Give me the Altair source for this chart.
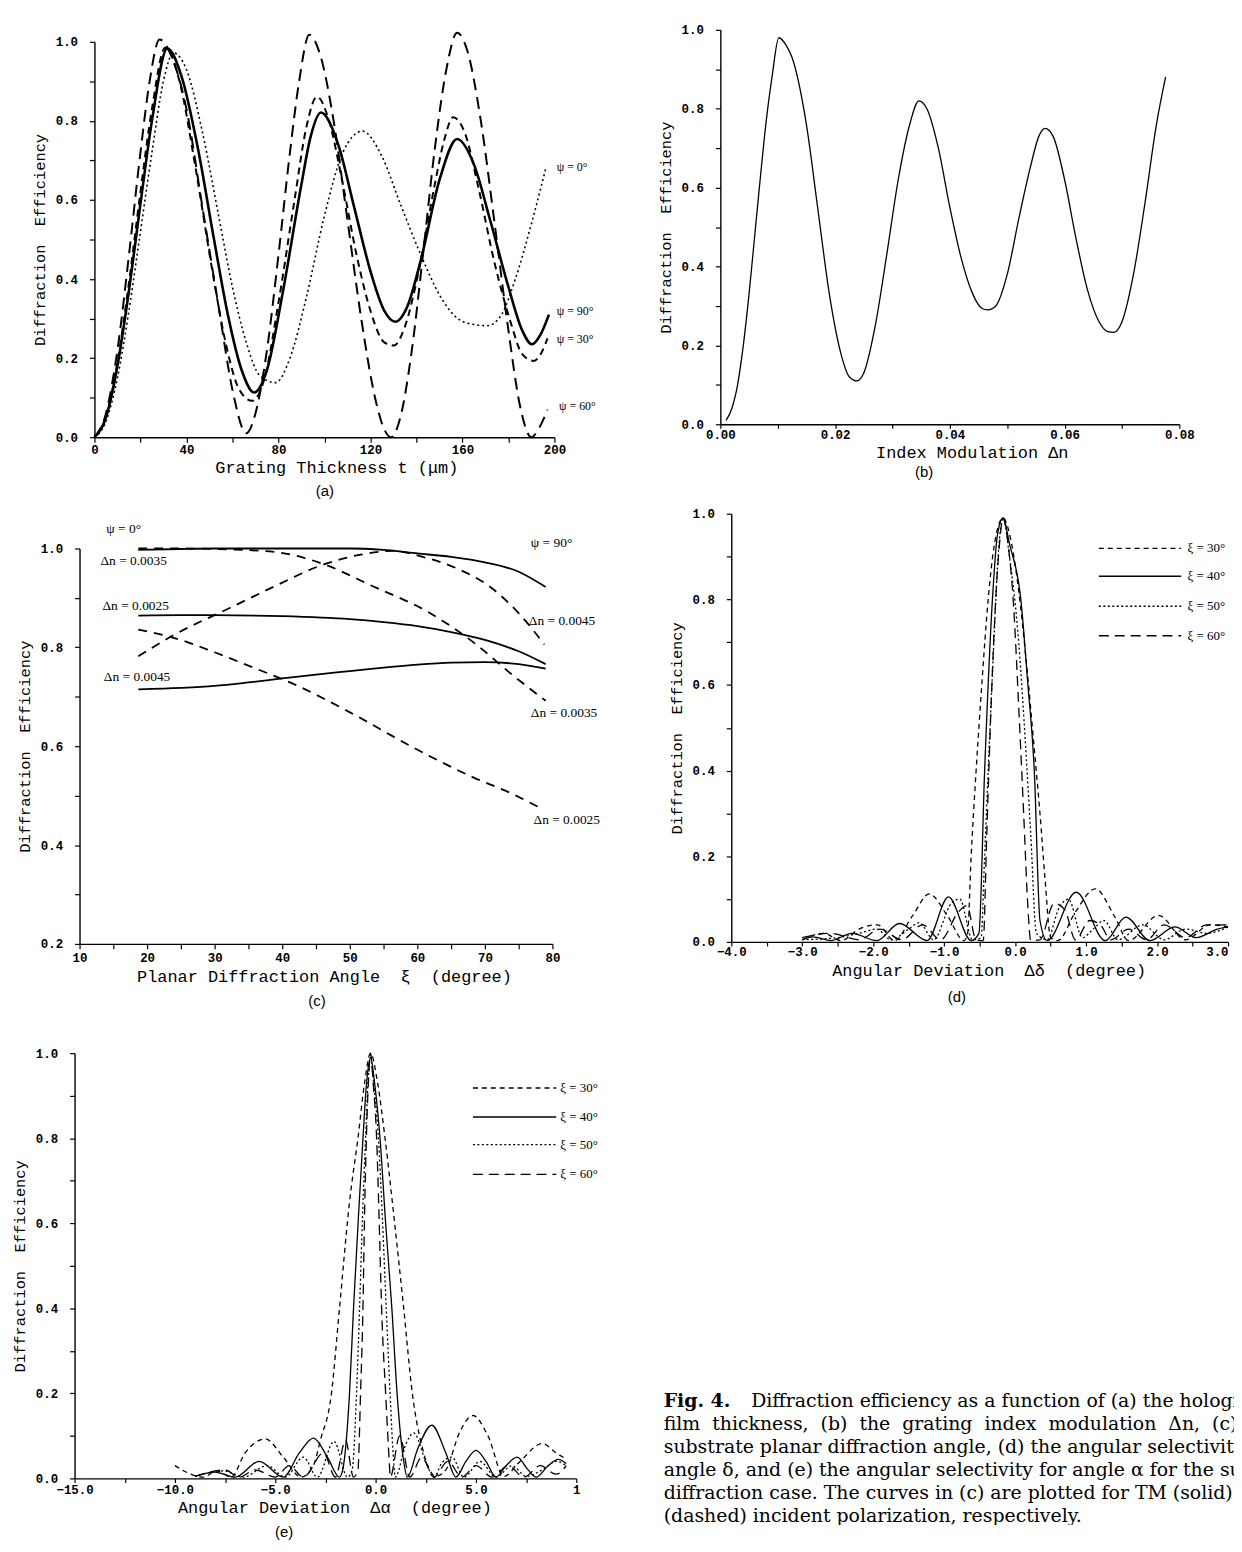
import altair as alt
import pandas as pd

MONO = "Liberation Mono"
SERIF = "Liberation Serif"
SANS = "Liberation Sans"
CAPFONT = "DejaVu Serif"
NB = "\u00a0"

# ---------------- (a) grating thickness ----------------
a_t_90 = [0, 5, 10, 15, 20, 25, 31.7, 38, 45, 52, 58, 64, 69.4, 75, 82, 90, 94, 98.5, 106, 113, 120, 126, 130.8,
          136, 142, 150, 157.7, 165, 172, 180, 186, 190.2, 194, 197.6]
a_v_90 = [0, 0.05, 0.18, 0.37, 0.59, 0.8, 0.983, 0.91, 0.73, 0.5, 0.31, 0.17, 0.113, 0.17, 0.37, 0.64, 0.76, 0.821,
          0.74, 0.58, 0.42, 0.32, 0.292, 0.33, 0.45, 0.65, 0.754, 0.69, 0.55, 0.38, 0.27, 0.235, 0.26, 0.31]
a_t_0 = [0, 5, 10, 15, 20, 25, 30, 34.3, 40, 47, 54, 60, 66, 72, 78.8, 85, 92, 100, 108, 116.5, 125, 133, 142, 150,
         158, 165, 170.9, 177, 183, 190, 196.2]
a_v_0 = [0, 0.04, 0.15, 0.32, 0.52, 0.72, 0.9, 0.972, 0.93, 0.77, 0.56, 0.38, 0.24, 0.155, 0.138, 0.2, 0.35, 0.56,
         0.72, 0.774, 0.71, 0.59, 0.46, 0.36, 0.3, 0.285, 0.282, 0.31, 0.4, 0.54, 0.679]
a_t_30 = [0, 5, 10, 15, 20, 25, 30.8, 37, 44, 51, 57, 63, 68.6, 74, 80, 87, 92, 96.8, 102, 108, 114, 120, 126, 130.2,
          135, 141, 148, 152, 156, 161, 167, 174, 181, 186, 191, 194, 197]
a_v_30 = [0, 0.05, 0.19, 0.39, 0.62, 0.83, 0.985, 0.9, 0.68, 0.43, 0.24, 0.12, 0.092, 0.15, 0.34, 0.6, 0.78, 0.861,
          0.8, 0.64, 0.46, 0.32, 0.24, 0.232, 0.28, 0.42, 0.64, 0.75, 0.809, 0.77, 0.63, 0.44, 0.29, 0.21, 0.193,
          0.21, 0.25]
a_t_60 = [0, 5, 10, 15, 20, 24, 28.3, 33, 40, 47, 54, 60, 66, 70, 75, 80, 85, 89, 93.4, 98, 104, 110, 116, 122, 126,
          129, 133, 138, 143, 148, 153, 157.7, 162, 168, 174, 180, 185, 190, 193, 197]
a_v_60 = [0, 0.06, 0.22, 0.46, 0.72, 0.9, 1.006, 0.97, 0.83, 0.58, 0.33, 0.12, 0.01, 0.06, 0.22, 0.46, 0.72, 0.9,
          1.018, 0.97, 0.8, 0.55, 0.3, 0.1, 0.02, 0.0, 0.05, 0.22, 0.47, 0.73, 0.93, 1.023, 0.98, 0.8, 0.54, 0.27,
          0.08, 0.0, 0.02, 0.07]
a_lab_x = [201, 201, 201, 202]
a_lab_y = [0.683, 0.319, 0.249, 0.08]
a_lab_t = ["ψ = 0°", "ψ = 90°", "ψ = 30°", "ψ = 60°"]

# ---------------- (b) index modulation ----------------
b_dn = [0.001, 0.002, 0.003, 0.004, 0.005, 0.006, 0.007, 0.008, 0.009, 0.0102, 0.0115, 0.0125, 0.015, 0.017, 0.019,
        0.021, 0.0225, 0.0238, 0.025, 0.027, 0.029, 0.031, 0.033, 0.0346, 0.036, 0.038, 0.040, 0.042, 0.044, 0.0455,
        0.0466, 0.048, 0.050, 0.052, 0.054, 0.0555, 0.0566, 0.058, 0.060, 0.062, 0.064, 0.066, 0.0675, 0.0686,
        0.070, 0.072, 0.074, 0.076, 0.0776]
b_eta = [0.01, 0.04, 0.1, 0.2, 0.33, 0.48, 0.63, 0.77, 0.88, 0.98, 0.96, 0.93, 0.76, 0.545, 0.33, 0.18, 0.12, 0.11,
         0.13, 0.25, 0.43, 0.62, 0.76, 0.82, 0.8, 0.7, 0.55, 0.42, 0.33, 0.295, 0.29, 0.3, 0.38, 0.52, 0.65, 0.73,
         0.75, 0.73, 0.62, 0.47, 0.34, 0.26, 0.235, 0.233, 0.26, 0.38, 0.56, 0.76, 0.88]

# ---------------- (c) planar diffraction angle ----------------
c_tm35_x = [18.7, 25, 30, 40, 50, 55, 60, 65, 70, 75, 79]
c_tm35_v = [0.997, 0.999, 1.0, 1.0, 1.0, 0.997, 0.99, 0.983, 0.972, 0.953, 0.922]
c_tm25_x = [18.7, 25, 30, 40, 50, 55, 60, 65, 70, 75, 79]
c_tm25_v = [0.864, 0.865, 0.865, 0.863, 0.857, 0.851, 0.843, 0.831, 0.815, 0.792, 0.766]
c_tm45_x = [18.7, 25, 30, 35, 40, 45, 50, 55, 60, 65, 70, 75, 79]
c_tm45_v = [0.715, 0.718, 0.722, 0.729, 0.737, 0.745, 0.752, 0.759, 0.765, 0.769, 0.77, 0.766, 0.757]
c_te35_x = [18.7, 25, 30, 38.8, 45.8, 53.5, 61.4, 68.7, 74, 79]
c_te35_v = [1.0, 1.0, 0.999, 0.993, 0.97, 0.923, 0.873, 0.806, 0.745, 0.692]
c_te45_x = [18.7, 24.1, 32.3, 38.8, 45.8, 51.4, 56.4, 60.8, 65.8, 71, 75.2, 78.8]
c_te45_v = [0.782, 0.826, 0.88, 0.923, 0.966, 0.987, 0.995, 0.983, 0.96, 0.92, 0.866, 0.806]
c_te25_x = [18.7, 25, 30, 35, 42.3, 50.5, 59.3, 68.1, 74, 77.8]
c_te25_v = [0.836, 0.815, 0.79, 0.763, 0.722, 0.665, 0.598, 0.538, 0.504, 0.478]
c_lab_x = [13.97, 76.8, 13.1, 13.4, 13.6, 76.5, 76.8, 77.2]
c_lab_y = [1.04, 1.012, 0.974, 0.884, 0.74, 0.854, 0.668, 0.45]
c_lab_t = ["ψ = 0°", "ψ = 90°", "Δn = 0.0035", "Δn = 0.0025", "Δn = 0.0045", "Δn = 0.0045", "Δn = 0.0035",
           "Δn = 0.0025"]

# ---------------- (d) angular deviation delta ----------------
d_x_30 = [-3.0, -2.7, -2.45, -2.2, -1.94, -1.7, -1.45, -1.21, -0.95, -0.72, -0.67, -0.62, -0.55, -0.47, -0.38, -0.3,
          -0.17, -0.05, 0.05, 0.16, 0.27, 0.35, 0.42, 0.5, 0.6, 0.85, 1.13, 1.4, 1.6, 2.02, 2.4, 2.75, 3.0]
d_v_30 = [0.005, 0.02, 0.003, 0.03, 0.04, 0.003, 0.06, 0.112, 0.06, 0.003, 0.02, 0.2, 0.4, 0.6, 0.8, 0.92, 0.99,
          0.93, 0.82, 0.65, 0.45, 0.3, 0.15, 0.01, 0.003, 0.07, 0.124, 0.06, 0.003, 0.062, 0.005, 0.04, 0.035]
d_x_40 = [-3.0, -2.85, -2.6, -2.3, -1.95, -1.63, -1.24, -0.94, -0.62, -0.51, -0.43, -0.32, -0.25, -0.17, -0.08, 0.08,
          0.18, 0.27, 0.35, 0.45, 0.86, 1.27, 1.56, 1.9, 2.25, 2.55, 2.85, 3.0]
d_v_40 = [0.005, 0.012, 0.003, 0.02, 0.003, 0.043, 0.003, 0.105, 0.003, 0.02, 0.4, 0.8, 0.95, 0.99, 0.93, 0.8, 0.6,
          0.4, 0.05, 0.003, 0.116, 0.003, 0.058, 0.003, 0.035, 0.01, 0.03, 0.035]
d_x_50 = [-3.0, -2.5, -2.2, -1.95, -1.75, -1.5, -1.35, -1.15, -0.9, -0.78, -0.6, -0.48, -0.43, -0.38, -0.3, -0.24,
          -0.17, -0.08, 0.05, 0.15, 0.22, 0.3, 0.45, 0.62, 0.75, 0.95, 1.1, 1.25, 1.45, 1.8, 2.1, 2.4, 2.7, 3.0]
d_v_50 = [0.005, 0.01, 0.02, 0.03, 0.005, 0.03, 0.045, 0.005, 0.09, 0.1, 0.005, 0.01, 0.2, 0.4, 0.7, 0.9, 0.99, 0.9,
          0.7, 0.45, 0.25, 0.02, 0.005, 0.08, 0.1, 0.01, 0.03, 0.05, 0.005, 0.04, 0.005, 0.03, 0.02, 0.035]
d_x_60 = [-3.0, -2.6, -2.2, -1.9, -1.6, -1.3, -1.05, -0.8, -0.68, -0.55, -0.45, -0.4, -0.35, -0.28, -0.22, -0.17,
          -0.1, -0.02, 0.05, 0.12, 0.18, 0.22, 0.35, 0.55, 0.7, 0.85, 1.05, 1.2, 1.35, 1.6, 1.85, 2.1, 2.4, 2.7, 3.0]
d_v_60 = [0.01, 0.02, 0.005, 0.03, 0.005, 0.04, 0.005, 0.07, 0.085, 0.005, 0.003, 0.25, 0.5, 0.78, 0.93, 0.99, 0.93,
          0.78, 0.55, 0.3, 0.08, 0.003, 0.005, 0.09, 0.075, 0.005, 0.05, 0.04, 0.005, 0.03, 0.005, 0.04, 0.01, 0.04,
          0.04]
d_leg_x0, d_leg_x1, d_leg_tx = 1.18, 2.34, 2.43
d_leg_y = [0.919, 0.854, 0.784, 0.715]

# ---------------- (e) angular deviation alpha ----------------
e_x_30 = [-10.0, -9.3, -8.6, -7.9, -7.2, -6.5, -5.5, -4.6, -3.7, -3.1, -2.75, -2.2, -1.8, -1.3, -0.88, -0.55, -0.25,
          0.1, 0.47, 0.95, 1.4, 1.83, 2.34, 3.0, 3.5, 4.2, 4.85, 5.6, 6.4, 7.2, 8.3, 9.0, 9.5]
e_v_30 = [0.03, 0.012, 0.003, 0.018, 0.003, 0.06, 0.093, 0.05, 0.003, 0.03, 0.09, 0.2, 0.4, 0.65, 0.8, 0.93, 1.0,
          0.93, 0.8, 0.6, 0.4, 0.2, 0.07, 0.005, 0.02, 0.11, 0.148, 0.1, 0.005, 0.04, 0.082, 0.06, 0.045]
e_x_40 = [-9.0, -8.0, -7.0, -5.8, -4.6, -3.8, -3.1, -2.4, -1.8, -1.64, -1.3, -1.1, -0.85, -0.63, -0.45, -0.25, -0.05,
          0.22, 0.5, 0.81, 1.07, 1.4, 1.58, 2.1, 2.8, 3.5, 4.0, 4.5, 5.0, 5.5, 6.0, 6.5, 7.05, 7.6, 8.0, 8.6, 9.1, 9.5]
e_v_40 = [0.005, 0.015, 0.003, 0.04, 0.003, 0.06, 0.095, 0.05, 0.003, 0.02, 0.2, 0.4, 0.62, 0.8, 0.93, 0.99, 0.93,
          0.8, 0.6, 0.4, 0.2, 0.04, 0.003, 0.07, 0.125, 0.06, 0.003, 0.04, 0.066, 0.04, 0.003, 0.03, 0.05, 0.02,
          0.003, 0.03, 0.045, 0.035]
e_x_50 = [-9.0, -7.6, -6.6, -5.4, -4.5, -3.6, -2.9, -2.07, -1.4, -1.17, -0.95, -0.8, -0.65, -0.5, -0.38, -0.25, -0.1,
          0.14, 0.33, 0.53, 0.72, 0.9, 0.98, 1.5, 1.9, 2.5, 2.9, 3.3, 3.8, 4.4, 5.2, 6.0, 6.8, 7.5, 8.3, 9.0, 9.5]
e_v_50 = [0.005, 0.018, 0.003, 0.03, 0.003, 0.05, 0.003, 0.087, 0.003, 0.02, 0.2, 0.4, 0.62, 0.8, 0.93, 0.99, 0.93,
          0.8, 0.62, 0.4, 0.2, 0.04, 0.003, 0.08, 0.107, 0.04, 0.003, 0.036, 0.05, 0.003, 0.04, 0.003, 0.03, 0.005,
          0.02, 0.04, 0.03]
e_x_60 = [-9.0, -7.5, -6.8, -6.0, -5.0, -4.3, -3.6, -2.6, -2.0, -1.5, -1.1, -0.88, -0.75, -0.63, -0.55, -0.46, -0.36,
          -0.25, -0.12, 0.05, 0.17, 0.3, 0.5, 0.68, 0.73, 1.2, 1.7, 2.3, 2.9, 3.6, 4.3, 5.0, 5.8, 6.6, 7.4, 8.2, 9.0,
          9.5]
e_v_60 = [0.005, 0.02, 0.003, 0.02, 0.003, 0.03, 0.003, 0.06, 0.003, 0.09, 0.003, 0.02, 0.2, 0.4, 0.62, 0.8, 0.93,
          1.0, 0.93, 0.8, 0.62, 0.4, 0.2, 0.04, 0.003, 0.1, 0.003, 0.05, 0.003, 0.04, 0.003, 0.03, 0.003, 0.03,
          0.003, 0.03, 0.01, 0.03]
e_leg_x0, e_leg_x1, e_leg_tx = 4.85, 9.0, 9.2
e_leg_y = [0.918, 0.85, 0.785, 0.715]

leg_labels = ["ξ = 30°", "ξ = 40°", "ξ = 50°", "ξ = 60°"]

caption_bold = "Fig. 4."
caption_first = "Diffraction efficiency as a function of (a) the holographic"
caption_rest = [
    NB.join(["film", "", "thickness,", "", "(b)", "", "the", "", "grating", "", "index", "", "modulation", "",
             "Δn,", "", "(c)", "", "the"]),
    "substrate planar diffraction angle, (d) the angular selectivity for",
    "angle δ, and (e) the angular selectivity for angle α for the substrate",
    "diffraction case. The curves in (c) are plotted for TM (solid) and TE",
    "(dashed) incident polarization, respectively.",
]

# ---------------- styles ----------------
DASH_DOT = [2, 3]
DASH_MED = [7, 5]
DASH_LONG = [12, 7]
DASH_C = [9, 7]
DASH_S = [5, 4]
DASH_L = [10, 6]
DASH_DT = [2, 2.5]


def tick_values(lo, hi, step):
    n = int(round((hi - lo) / step))
    return [round(lo + i * step, 6) for i in range(n + 1)]


def lab_expr(major, fmt, special=None):
    core = f"format(datum.value, '{fmt}')"
    if special:
        for val, txt in special.items():
            core = f"(abs(datum.value - ({val})) < 1e-9 ? '{txt}' : {core})"
    return f"abs(datum.value / {major} - round(datum.value / {major})) < 1e-6 ? {core} : ''"


def xaxis(title, vals, major, fmt, tick_size, lab_pad, title_x, special=None, last_right=None):
    kw = dict(title=title, values=vals, labelExpr=lab_expr(major, fmt, special), grid=False,
              tickSize=tick_size, labelPadding=lab_pad, titlePadding=4, titleX=title_x, labelFlush=False,
              labelFont=MONO, labelFontSize=12.5, labelFontWeight="bold", labelColor="black",
              titleFont=MONO, titleFontSize=17, titleFontWeight="normal", titleColor="black",
              domainColor="black", domainWidth=1.4, tickColor="black", tickWidth=1.2, labelAngle=0)
    if last_right is not None:
        kw["labelAlign"] = {"condition": {"test": f"datum.value >= {last_right}", "value": "right"},
                            "value": "center"}
    return alt.Axis(**kw)


def yaxis(vals, major, offset):
    return alt.Axis(title="Diffraction" + NB + NB + "Efficiency", values=vals, labelExpr=lab_expr(major, ".1f"),
                    grid=False, tickSize=5, labelPadding=12, titlePadding=8, offset=offset,
                    labelFont=MONO, labelFontSize=12.5, labelFontWeight="bold", labelColor="black",
                    titleFont=MONO, titleFontSize=15.5, titleFontWeight="normal", titleColor="black",
                    domainColor="black", domainWidth=1.4, tickColor="black", tickWidth=1.2)


def curve(xs, ys, xe, ye, dash=None, width=1.4):
    kw = dict(color="black", strokeWidth=width, interpolate="monotone")
    if dash:
        kw["strokeDash"] = dash
    return alt.Chart(pd.DataFrame({"x": xs, "y": ys})).mark_line(**kw).encode(x=xe, y=ye)


def labels(xs, ys, ts, xe, ye, size=12):
    return alt.Chart(pd.DataFrame({"x": xs, "y": ys, "t": ts})).mark_text(
        align="left", baseline="middle", font=SERIF, fontSize=size, color="black").encode(x=xe, y=ye, text="t:N")


def legend_layers(x0, x1, tx, ys, dashes, xe, ye):
    out = []
    for yv, d in zip(ys, dashes):
        kw = dict(color="black", strokeWidth=1.4)
        if d:
            kw["strokeDash"] = d
        out.append(alt.Chart(pd.DataFrame({"x": [x0], "x1": [x1], "y": [yv]})).mark_rule(**kw).encode(
            x=xe, x2="x1:Q", y=ye))
    out.append(labels([tx] * len(ys), ys, leg_labels, xe, ye, size=13))
    return out


def panel_title(text, dx, offset):
    return alt.TitleParams(text, orient="bottom", anchor="middle", dx=dx, offset=offset, font=SANS,
                           fontSize=15, fontWeight="normal", color="black")


# Cells: left column cells start at page x=8, right column at x=665; row tops at 8, 490, 1000.
LW, RW = 572, 574

# ---------------- panel (a) ----------------
AX, AY = [87, 550], [427, 29]
xa = alt.X("x:Q", scale=alt.Scale(domain=[0, 200], nice=False, zero=False, range=AX),
           axis=xaxis("Grating Thickness t (μm)", tick_values(0, 200, 20), 40, "d", 5, 1, sum(AX) / 2 + 12))
ya = alt.Y("y:Q", scale=alt.Scale(domain=[0, 1], nice=False, zero=False, range=AY),
           axis=yaxis(tick_values(0, 1, 0.1), 0.2, -AX[0]))
panel_a = alt.layer(
    curve(a_t_0, a_v_0, xa, ya, DASH_DOT, 1.6),
    curve(a_t_30, a_v_30, xa, ya, DASH_MED, 2.0),
    curve(a_t_60, a_v_60, xa, ya, DASH_LONG, 2.0),
    curve(a_t_90, a_v_90, xa, ya, None, 2.6),
    labels(a_lab_x, a_lab_y, a_lab_t, xa, ya, 12),
).properties(width=LW, height=AY[0], title=panel_title("(a)", 33, 9))

# ---------------- panel (b) ----------------
BX, BY = [57, 519], [414, 17]
xb = alt.X("x:Q", scale=alt.Scale(domain=[0, 0.08], nice=False, zero=False, range=BX),
           axis=xaxis("Index Modulation Δn", tick_values(0, 0.08, 0.01), 0.02, ".2f", 4, 0, sum(BX) / 2 + 22))
yb = alt.Y("y:Q", scale=alt.Scale(domain=[0, 1], nice=False, zero=False, range=BY),
           axis=yaxis(tick_values(0, 1, 0.1), 0.2, -BX[0]))
panel_b = alt.layer(
    curve(b_dn, b_eta, xb, yb, None, 1.3),
).properties(width=RW, height=BY[0], title=panel_title("(b)", -25, 5))

# ---------------- panel (c) ----------------
CX, CY = [72, 548], [455, 57]
xc = alt.X("x:Q", scale=alt.Scale(domain=[10, 80], nice=False, zero=False, range=CX),
           axis=xaxis("Planar Diffraction Angle" + NB + NB + "ξ" + NB + NB + "(degree)", tick_values(10, 80, 5),
                      10, "d", 5, 3, sum(CX) / 2 + 8))
yc = alt.Y("y:Q", scale=alt.Scale(domain=[0.2, 1.0], nice=False, zero=False, range=CY),
           axis=yaxis(tick_values(0.2, 1.0, 0.1), 0.2, -CX[0]))
panel_c = alt.layer(
    curve(c_tm35_x, c_tm35_v, xc, yc, None, 1.8),
    curve(c_tm25_x, c_tm25_v, xc, yc, None, 1.8),
    curve(c_tm45_x, c_tm45_v, xc, yc, None, 1.8),
    curve(c_te35_x, c_te35_v, xc, yc, DASH_C, 1.8),
    curve(c_te45_x, c_te45_v, xc, yc, DASH_C, 1.8),
    curve(c_te25_x, c_te25_v, xc, yc, DASH_C, 1.8),
    labels(c_lab_x, c_lab_y, c_lab_t, xc, yc, 13.5),
).properties(width=LW, height=CY[0], title=panel_title("(c)", 25, 10))

# ---------------- panel (d) ----------------
DX, DY = [68, 568], [453, 22]
xd = alt.X("x:Q", scale=alt.Scale(domain=[-4, 3], nice=False, zero=False, range=DX),
           axis=xaxis("Angular Deviation" + NB + NB + "Δδ" + NB + NB + "(degree)", tick_values(-4, 3, 0.5), 1,
                      ".1f", 4, 0, sum(DX) / 2 + 9, last_right=2.99))
yd = alt.Y("y:Q", scale=alt.Scale(domain=[0, 1], nice=False, zero=False, range=DY),
           axis=yaxis(tick_values(0, 1, 0.1), 0.2, -DX[0]))
panel_d = alt.layer(
    curve(d_x_30, d_v_30, xd, yd, DASH_S, 1.3),
    curve(d_x_40, d_v_40, xd, yd, None, 1.3),
    curve(d_x_50, d_v_50, xd, yd, DASH_DT, 1.3),
    curve(d_x_60, d_v_60, xd, yd, DASH_L, 1.3),
    *legend_layers(d_leg_x0, d_leg_x1, d_leg_tx, d_leg_y, [DASH_S, None, DASH_DT, DASH_L], xd, yd),
).properties(width=RW, height=DY[0], title=panel_title("(d)", 8, 12))

# ---------------- panel (e) ----------------
EX, EY = [67, 572], [483, 55]
xe_ = alt.X("x:Q", scale=alt.Scale(domain=[-15, 10], nice=False, zero=False, range=EX),
            axis=xaxis("Angular Deviation" + NB + NB + "Δα" + NB + NB + "(degree)", tick_values(-15, 10, 2.5), 5,
                       ".1f", 4, 1, sum(EX) / 2 + 9, special={10: "1"}))
ye_ = alt.Y("y:Q", scale=alt.Scale(domain=[0, 1], nice=False, zero=False, range=EY),
            axis=yaxis(tick_values(0, 1, 0.1), 0.2, -EX[0]))
panel_e = alt.layer(
    curve(e_x_30, e_v_30, xe_, ye_, DASH_S, 1.3),
    curve(e_x_40, e_v_40, xe_, ye_, None, 1.3),
    curve(e_x_50, e_v_50, xe_, ye_, DASH_DT, 1.3),
    curve(e_x_60, e_v_60, xe_, ye_, DASH_L, 1.3),
    *legend_layers(e_leg_x0, e_leg_x1, e_leg_tx, e_leg_y, [DASH_S, None, DASH_DT, DASH_L], xe_, ye_),
).properties(width=LW, height=EY[0], title=panel_title("(e)", -8, 9))

# ---------------- caption ----------------
CAP_SIZE = 19
cap_y = alt.Y("line:O", axis=None,
              scale=alt.Scale(type="point", domain=[0, 1, 2, 3, 4, 5], range=[405.5, 520.5], padding=0))
cap_bold = alt.Chart(pd.DataFrame({"line": [0], "t": [caption_bold]})).mark_text(
    align="left", baseline="middle", font=CAPFONT, fontSize=CAP_SIZE, fontWeight="bold", color="black", clip=True
).encode(x=alt.value(0), y=cap_y, text="t:N")
cap_first = alt.Chart(pd.DataFrame({"line": [0], "t": [caption_first]})).mark_text(
    align="left", baseline="middle", font=CAPFONT, fontSize=CAP_SIZE, color="black", dx=88, clip=True
).encode(x=alt.value(0), y=cap_y, text="t:N")
cap_rest = alt.Chart(pd.DataFrame({"line": [1, 2, 3, 4, 5], "t": caption_rest})).mark_text(
    align="left", baseline="middle", font=CAPFONT, fontSize=CAP_SIZE, color="black", clip=True
).encode(x=alt.value(0), y=cap_y, text="t:N")
caption = alt.layer(cap_bold, cap_first, cap_rest).properties(width=RW, height=530)

chart = alt.concat(
    panel_a, panel_b, panel_c, panel_d, panel_e, caption,
    columns=2, spacing={"row": 55, "column": 88}, bounds="flush",
).properties(padding=0).configure_view(stroke=None)

chart.save("out.html", embed_options={"renderer": "svg", "actions": False})
